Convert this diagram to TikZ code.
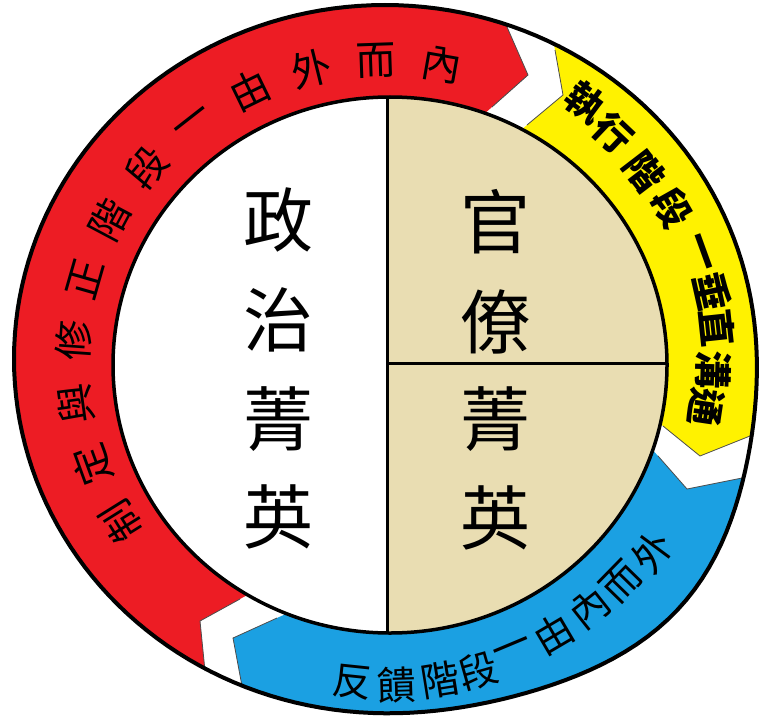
\documentclass[tikz,border=0pt]{standalone}
\usepackage{fontspec}
\newfontfamily\cjk{Noto Sans CJK TC}
\usetikzlibrary{calc}
\definecolor{segred}{RGB}{237,28,36}
\definecolor{segyellow}{RGB}{255,242,0}
\definecolor{segblue}{RGB}{27,160,226}
\definecolor{beige}{RGB}{233,221,178}
\tikzset{
  bandtxt/.style={inner sep=0pt, font=\cjk\fontsize{40}{40}\selectfont},
  yeltxt/.style={inner sep=0pt, font=\cjk\bfseries\fontsize{38}{38}\selectfont},
  bluetxt/.style={inner sep=0pt, font=\cjk\fontsize{39}{39}\selectfont},
  midtxt/.style={inner sep=0pt, font=\cjk\fontsize{70}{70}\selectfont},
  chev/.style={line width=0.8pt, black!70},
  declare function={
    cc(\t)=(1+cos(\t-42))/2;
    ctwo(\t)=cc(\t)*cc(\t);
    ceight(\t)=ctwo(\t)*ctwo(\t)*ctwo(\t)*ctwo(\t);
    bf(\t)=1+0.06*ceight(\t)*ceight(\t)*ceight(\t);
    ox(\t)=385+371*cos(\t)*bf(\t);
    oy(\t)=359+354*sin(\t)*bf(\t);
  },
}
\begin{document}
\begin{tikzpicture}[x=1pt,y=-1pt]
\fill[white] (0,0) rectangle (759,722);
\useasboundingbox (0,0) rectangle (759,722);
\coordinate (C) at (387,362);
\coordinate (Ic) at (390,365);
% chevron points: A inner, T tip, B outer
\coordinate (rsA) at (240,599); \coordinate (rsT) at (200,621); \coordinate (rsB) at (205,671);
\coordinate (reA) at (492,107); \coordinate (reT) at (528,75);  \coordinate (reB) at (507,27);
\coordinate (ysA) at (527,125); \coordinate (ysT) at (563,95);  \coordinate (ysB) at (555,50);
\coordinate (yeA) at (663,426); \coordinate (yeT) at (700,456); \coordinate (yeB) at (750,436);
\coordinate (bsA) at (658,456); \coordinate (bsT) at (687,489); \coordinate (bsB) at (742,478);
\coordinate (beA) at (277,618); \coordinate (beT) at (233,638); \coordinate (beB) at (242,686);
% red segment
\begin{scope}
\clip (C) -- ($(rsA)!-1!(rsT)$) -- (rsA) -- (rsT) -- (rsB) -- ($(rsB)!-0.6!(rsT)$) -- (-50,800) -- (-50,-50) -- (520,-50) -- ($(reB)!-0.6!(reT)$) -- (reB) -- (reT) -- (reA) -- ($(reA)!-1!(reT)$) -- cycle;
\fill[segred, even odd rule] plot[domain=0:360, samples=181] ({ox(\x)},{oy(\x)}) -- cycle (Ic) ellipse [x radius=277, y radius=268];
\end{scope}
% yellow segment
\begin{scope}
\clip (C) -- ($(ysA)!-1!(ysT)$) -- (ysA) -- (ysT) -- (ysB) -- ($(ysB)!-0.6!(ysT)$) -- (600,-50) -- (850,-50) -- (850,430) -- ($(yeB)!-0.6!(yeT)$) -- (yeB) -- (yeT) -- (yeA) -- ($(yeA)!-1!(yeT)$) -- cycle;
\fill[segyellow, even odd rule] plot[domain=0:360, samples=181] ({ox(\x)},{oy(\x)}) -- cycle (Ic) ellipse [x radius=277, y radius=268];
\end{scope}
% blue segment
\begin{scope}
\clip (C) -- ($(bsA)!-1!(bsT)$) -- (bsA) -- (bsT) -- (bsB) -- ($(bsB)!-0.6!(bsT)$) -- (850,480) -- (850,850) -- (150,850) -- ($(beB)!-0.6!(beT)$) -- (beB) -- (beT) -- (beA) -- ($(beA)!-1!(beT)$) -- cycle;
\fill[segblue, even odd rule] plot[domain=0:360, samples=181] ({ox(\x)},{oy(\x)}) -- cycle (Ic) ellipse [x radius=277, y radius=268];
\end{scope}
% chevron edges
\draw[chev] (rsA) -- (rsT) -- (rsB);
\draw[chev] (reA) -- (reT) -- (reB);
\draw[chev] (ysA) -- (ysT) -- (ysB);
\draw[chev] (yeA) -- (yeT) -- (yeB);
\draw[chev] (bsA) -- (bsT) -- (bsB);
\draw[chev] (beA) -- (beT) -- (beB);
% inner disk
\begin{scope}
\clip (Ic) ellipse [x radius=277, y radius=268];
\fill[beige] (387,0) rectangle (800,800);
\draw[line width=3pt] (387,0) -- (387,800);
\draw[line width=3pt] (387,363) -- (800,363);
\end{scope}
\draw[line width=3.5pt] (Ic) ellipse [x radius=277, y radius=268];
\draw[line width=4pt, line join=round] plot[domain=0:360, samples=181] ({ox(\x)},{oy(\x)}) -- cycle;
% band texts
\foreach \a/\r/\ch [count=\i] in {148/302/制,160/302/定,172/302/與,184/302/修,196/302/正,208/302/階,220/302/段,232/302/一,244/302/由,256/302/外,268/302/而,280/302/內}{
  \node[bandtxt, rotate={-1*(\a)-90}] (red\i) at ($(C)+({1.04*\r*cos(\a)},{\r*sin(\a)})$) {\ch};
}
\foreach \a/\r/\ch [count=\i] in {-53.8/322/執,-46.5/316/行,-37.5/312/階,-29.4/315/段,-19.9/318/一,-12.6/320/垂,-6.1/320/直,1.5/314/溝,8.5/310/通}{
  \node[yeltxt, rotate={-1*(\a)-90}] (yel\i) at ($(C)+({1.04*\r*cos(\a)},{\r*sin(\a)})$) {\ch};
}
\foreach \a/\r/\ch [count=\i] in {96/322/反,88.3/323/饋,80.9/322/階,74.1/321/段,67.3/314/一,59.5/316/由,51.6/314/內,44.3/315/而,36.6/318/外}{
  \node[bluetxt, rotate={-1*(\a)+90}] (blu\i) at ($(C)+({1.04*\r*cos(\a)},{\r*sin(\a)})$) {\ch};
}
% centre texts
\node[midtxt] (p1) at (278,220) {政};
\node[midtxt] (p2) at (278,320) {治};
\node[midtxt] (p3) at (278,419) {菁};
\node[midtxt] (p4) at (278,517) {英};
\node[midtxt] (b1) at (495,222) {官};
\node[midtxt] (b2) at (495,322) {僚};
\node[midtxt] (b3) at (495,419) {菁};
\node[midtxt] (b4) at (495,518) {英};
\end{tikzpicture}
\end{document}
